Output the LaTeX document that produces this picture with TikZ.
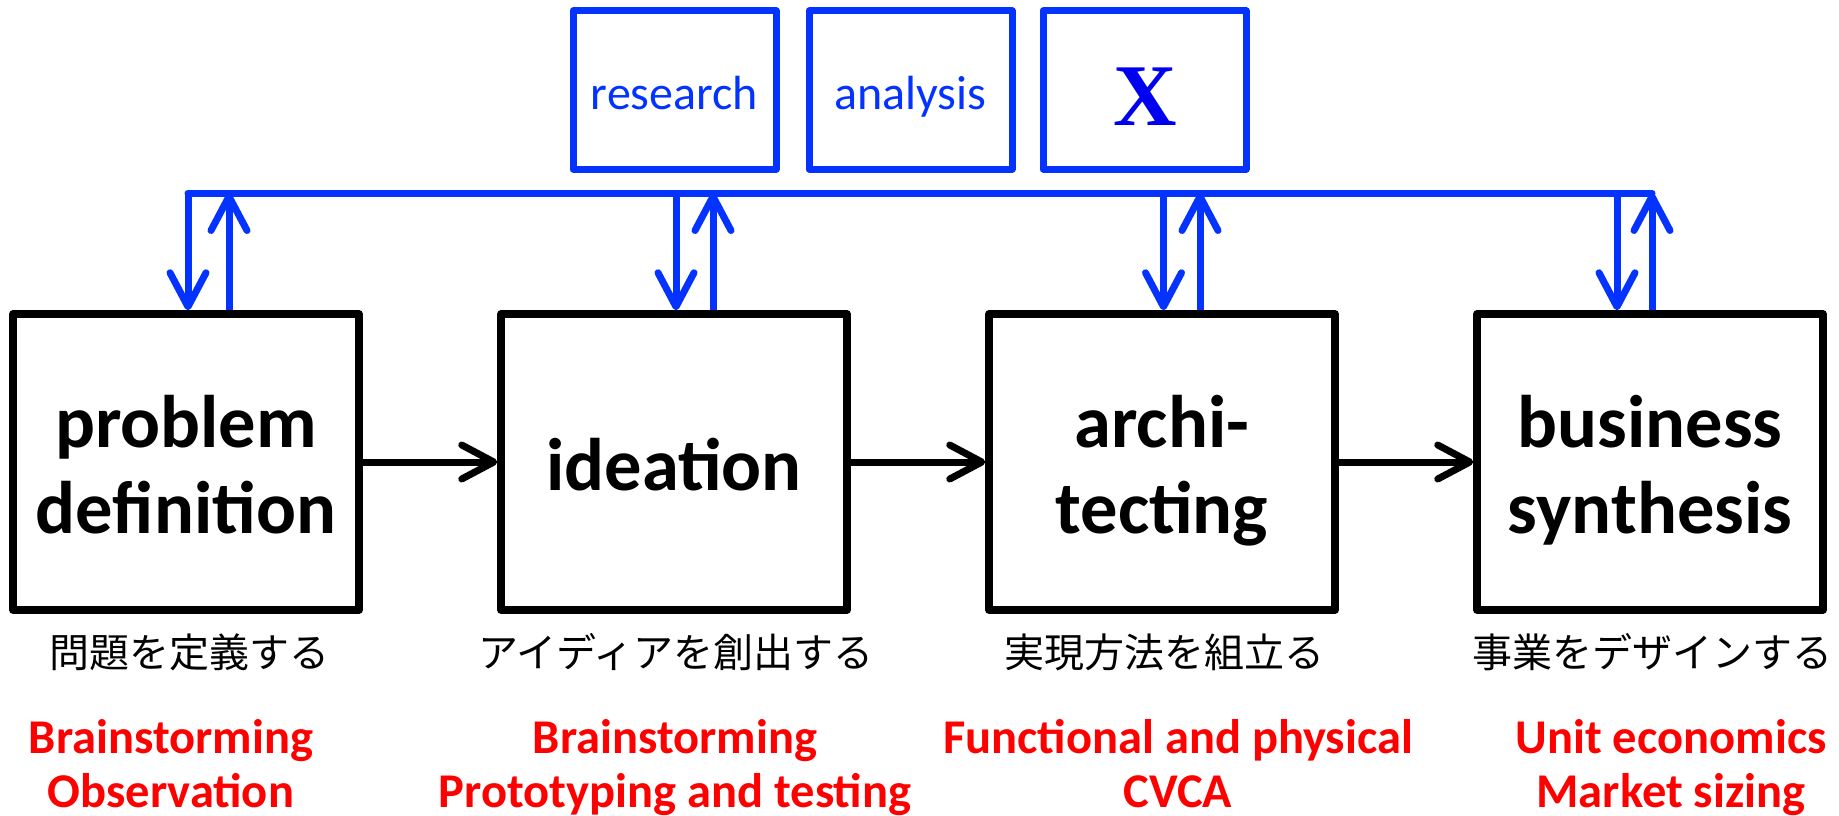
\documentclass[tikz,border=0pt]{standalone}
\usepackage{fontspec}
\setmainfont{Carlito}
\newfontfamily\jpfont{Noto Sans CJK JP}
\newfontfamily\xfont{Liberation Serif}
\usetikzlibrary{arrows.meta}
\definecolor{lblue}{RGB}{4,51,255}
\definecolor{xblue}{RGB}{0,0,240}
\definecolor{tred}{RGB}{255,0,0}
\begin{document}
\begin{tikzpicture}[x=1pt,y=-1pt,
  toolbox/.style={draw=lblue, line width=7pt, line join=round, minimum width=203pt, minimum height=158pt, inner sep=0pt},
  stagebox/.style={draw=black, line width=7.5pt, line join=round, minimum width=346pt, minimum height=296pt, inner sep=0pt},
  tooltext/.style={text=lblue, font=\fontsize{48}{56}\selectfont, anchor=base, inner sep=0pt},
  xtext/.style={text=xblue, font=\xfont\bfseries\fontsize{88}{100}\selectfont, anchor=base, inner sep=0pt},
  stagetext/.style={font=\bfseries\fontsize{74.5}{86}\selectfont, anchor=base, inner sep=0pt},
  jptext/.style={font=\jpfont\fontsize{40}{48}\selectfont, anchor=base, inner sep=0pt},
  redtext/.style={text=tred, font=\bfseries\fontsize{48.5}{56}\selectfont, anchor=base, inner sep=0pt},
  busline/.style={draw=lblue, line width=7pt, line cap=round, line join=round},
  busarrow/.style={draw=lblue, line width=7pt, -{Straight Barb[length=34pt,width=36pt,round]}},
  flowarrow/.style={draw=black, line width=7pt, -{Straight Barb[length=32pt,width=34pt,round]}},
]
\useasboundingbox (0,0) rectangle (1839,816);

% tool boxes
\node[toolbox] (research) at (674.5,90) {};
\node[toolbox] (analysis) at (910.5,90) {};
\node[toolbox] (xbox) at (1144.5,90) {};
\node[tooltext] at (674.5,110) {research};
\node[tooltext] at (910.5,110) {analysis};
\node[xtext] at (1145.5,125) {X};

% stage boxes
\node[stagebox] (s1) at (186,462) {};
\node[stagebox] (s2) at (674,462) {};
\node[stagebox] (s3) at (1162,462) {};
\node[stagebox] (s4) at (1650,462) {};

\node[stagetext] at (186,447) {problem};
\node[stagetext] at (186,533) {definition};
\node[stagetext] at (674,490) {ideation};
\node[stagetext] at (1162,447) {archi-};
\node[stagetext] at (1162,533) {tecting};
\node[stagetext] at (1650,447) {business};
\node[stagetext] at (1650,533) {synthesis};

% bus coordinates
\coordinate (d1) at (188,193);
\coordinate (u1) at (229,193);
\coordinate (d2) at (676,193);
\coordinate (u2) at (713,193);
\coordinate (d3) at (1163.5,193);
\coordinate (u3) at (1200,193);
\coordinate (d4) at (1617,193);
\coordinate (u4) at (1652,193);

\draw[busline] (u4) -- (d1);
\foreach \i in {1,2,3,4}{
  \draw[busarrow] (d\i) -- (d\i |- s\i.north);
  \draw[busarrow] (u\i |- s\i.north) -- (u\i);
}

% flow arrows
\draw[flowarrow] (s1.east) -- (s2.west);
\draw[flowarrow] (s2.east) -- (s3.west);
\draw[flowarrow] (s3.east) -- (s4.west);

% japanese labels
\node[jptext] (j1) at (189,667) {問題を定義する};
\node[jptext] (j2) at (676,667) {アイディアを創出する};
\node[jptext] (j3) at (1164,667) {実現方法を組立る};
\node[jptext] (j4) at (1652,667) {事業をデザインする};

% red method labels
\node[redtext] at (171,753) {Brainstorming};
\node[redtext] at (171,807) {Observation};
\node[redtext] at (675,753) {Brainstorming};
\node[redtext] at (675,807) {Prototyping and testing};
\node[redtext] at (1178,753) {Functional and physical};
\node[redtext] at (1178,807) {CVCA};
\node[redtext] at (1671,753) {Unit economics};
\node[redtext] at (1671,807) {Market sizing};
\end{tikzpicture}
\end{document}
